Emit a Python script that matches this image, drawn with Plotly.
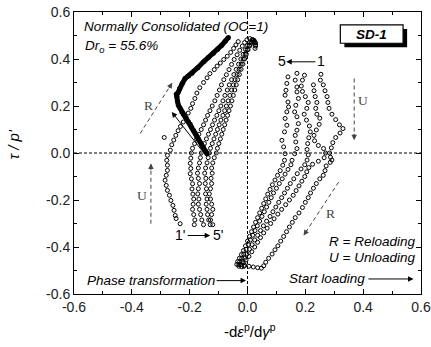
import plotly.graph_objects as go

# ---------------- data ----------------
# cycle 1: right column 1 -> reload band A -> left column 1' -> reload band 1'
c1_x = [0.254, 0.252, 0.262, 0.268, 0.275, 0.278, 0.282, 0.292, 0.305, 0.318, 0.330, 0.320, 0.305, 0.295, 0.290, 0.284, 0.287, 0.292,
        0.286, 0.272, 0.268, 0.262, 0.250, 0.238, 0.228, 0.218, 0.210, 0.200, 0.190, 0.178, 0.165, 0.155, 0.145, 0.135, 0.125, 0.115,
        0.105, 0.095, 0.085, 0.073, 0.063, 0.056, 0.048, 0.035, 0.020,
        -0.233, -0.247, -0.250, -0.254, -0.258, -0.265, -0.270, -0.277, -0.281, -0.285, -0.281, -0.277, -0.277, -0.279, -0.277, -0.267,
        -0.262, -0.255, -0.248, -0.240, -0.232, -0.222, -0.212, -0.205, -0.196, -0.190, -0.182, -0.175, -0.165, -0.152, -0.140, -0.130,
        -0.115, -0.105, -0.094, -0.082, -0.070, -0.058, -0.048, -0.040, -0.032, -0.288]
c1_y = [0.335, 0.310, 0.290, 0.265, 0.240, 0.215, 0.190, 0.165, 0.142, 0.120, 0.104, 0.085, 0.066, 0.044, 0.022, 0.000, -0.018, -0.030,
        -0.040, -0.055, -0.075, -0.095, -0.110, -0.130, -0.150, -0.170, -0.190, -0.210, -0.232, -0.255, -0.275, -0.295, -0.315, -0.335,
        -0.355, -0.375, -0.395, -0.412, -0.430, -0.448, -0.465, -0.480, -0.490, -0.488, -0.485,
        -0.301, -0.279, -0.266, -0.244, -0.223, -0.202, -0.180, -0.159, -0.138, -0.116, -0.095, -0.074, -0.052, -0.031, -0.010, 0.012,
        0.035, 0.055, 0.075, 0.095, 0.113, 0.132, 0.150, 0.170, 0.190, 0.210, 0.232, 0.255, 0.278, 0.300, 0.320, 0.338,
        0.355, 0.370, 0.383, 0.398, 0.412, 0.428, 0.445, 0.460, 0.474, 0.066]

# cycle 2
c2_x = [0.228, 0.230, 0.234, 0.240, 0.236, 0.240, 0.250, 0.248, 0.238, 0.230, 0.232, 0.245, 0.263, 0.270, 0.265, 0.245, 0.225,
        0.212, 0.205, 0.198, 0.188, 0.178, 0.168, 0.158, 0.145, 0.132, 0.118, 0.105, 0.092, 0.080, 0.068, 0.056, 0.045, 0.035, 0.025,
        0.015, 0.005, -0.005, -0.015, -0.010, 0.005,
        -0.184, -0.182, -0.186, -0.190, -0.188, -0.186, -0.189, -0.192, -0.190, -0.194, -0.198, -0.196, -0.198, -0.196, -0.194,
        -0.190, -0.183, -0.176, -0.168, -0.160, -0.152, -0.145, -0.138, -0.130, -0.122, -0.113, -0.105, -0.097, -0.090, -0.082,
        -0.073, -0.064, -0.055, -0.046, -0.036, -0.027, -0.018, -0.010, -0.002, 0.008, 0.018, 0.025, 0.028]
c2_y = [0.290, 0.265, 0.240, 0.215, 0.190, 0.165, 0.148, 0.122, 0.098, 0.075, 0.052, 0.032, 0.019, 0.000, -0.020, -0.035, -0.048,
        -0.062, -0.080, -0.100, -0.120, -0.140, -0.160, -0.180, -0.200, -0.220, -0.240, -0.260, -0.280, -0.300, -0.320, -0.340, -0.360,
        -0.380, -0.400, -0.420, -0.440, -0.455, -0.468, -0.478, -0.482,
        -0.305, -0.285, -0.262, -0.240, -0.218, -0.196, -0.175, -0.153, -0.131, -0.110, -0.088, -0.066, -0.044, -0.022, 0.000,
        0.020, 0.040, 0.060, 0.080, 0.100, 0.120, 0.140, 0.160, 0.180, 0.200, 0.222, 0.245, 0.268, 0.290, 0.312,
        0.333, 0.355, 0.377, 0.398, 0.418, 0.437, 0.455, 0.470, 0.482, 0.487, 0.482, 0.470, 0.455]

# cycle 3
c3_x = [0.197, 0.190, 0.186, 0.190, 0.200, 0.210, 0.205, 0.196, 0.204, 0.214, 0.217, 0.212, 0.208, 0.206, 0.210, 0.206, 0.198,
        0.185, 0.172, 0.160, 0.148, 0.138, 0.128, 0.118, 0.108, 0.098, 0.088, 0.078, 0.066, 0.055, 0.045, 0.035, 0.025, 0.016,
        0.007, -0.002, -0.010, -0.018, -0.022, -0.012,
        -0.152, -0.158, -0.162, -0.166, -0.170, -0.168, -0.172, -0.170, -0.166, -0.170, -0.173, -0.170, -0.166, -0.163, -0.160,
        -0.155, -0.149, -0.142, -0.135, -0.128, -0.121, -0.114, -0.106, -0.099, -0.092, -0.085, -0.078, -0.070, -0.063, -0.055,
        -0.047, -0.039, -0.031, -0.023, -0.015, -0.007, 0.000, 0.008, 0.016, 0.024]
c3_y = [0.331, 0.310, 0.285, 0.262, 0.240, 0.215, 0.190, 0.165, 0.140, 0.115, 0.090, 0.065, 0.040, 0.015, -0.008, -0.030, -0.050,
        -0.068, -0.088, -0.110, -0.130, -0.150, -0.170, -0.190, -0.210, -0.230, -0.250, -0.270, -0.290, -0.310, -0.330, -0.350,
        -0.370, -0.390, -0.410, -0.430, -0.448, -0.462, -0.475, -0.482,
        -0.305, -0.285, -0.262, -0.240, -0.218, -0.196, -0.174, -0.152, -0.130, -0.108, -0.086, -0.064, -0.042, -0.020, 0.000,
        0.020, 0.040, 0.060, 0.080, 0.100, 0.120, 0.140, 0.160, 0.180, 0.200, 0.222, 0.245, 0.268, 0.290, 0.312,
        0.334, 0.356, 0.378, 0.400, 0.420, 0.440, 0.458, 0.472, 0.482, 0.476]

# cycle 4
c4_x = [0.171, 0.165, 0.171, 0.171, 0.176, 0.167, 0.163, 0.171, 0.176, 0.171, 0.165, 0.167, 0.171, 0.163, 0.154, 0.150,
        0.140, 0.130, 0.120, 0.110, 0.100, 0.090, 0.082, 0.074, 0.066, 0.058, 0.050, 0.042, 0.034, 0.026, 0.018, 0.010, 0.003,
        -0.005, -0.013, -0.020, -0.027, -0.030, -0.020,
        -0.129, -0.134, -0.138, -0.140, -0.143, -0.140, -0.145, -0.142, -0.146, -0.144, -0.148, -0.145, -0.140, -0.136, -0.132,
        -0.128, -0.122, -0.116, -0.110, -0.104, -0.098, -0.092, -0.085, -0.079, -0.073, -0.067, -0.061, -0.055, -0.049, -0.043,
        -0.036, -0.029, -0.022, -0.015, -0.008, -0.001, 0.006, 0.014, 0.022, 0.028]
c4_y = [0.339, 0.310, 0.281, 0.260, 0.232, 0.203, 0.175, 0.154, 0.125, 0.097, 0.075, 0.047, 0.019, -0.003, -0.031, -0.050,
        -0.070, -0.090, -0.110, -0.130, -0.150, -0.170, -0.190, -0.210, -0.230, -0.250, -0.270, -0.290, -0.310, -0.330, -0.350,
        -0.370, -0.390, -0.410, -0.430, -0.448, -0.462, -0.475, -0.484,
        -0.305, -0.285, -0.262, -0.240, -0.218, -0.196, -0.174, -0.152, -0.130, -0.108, -0.086, -0.064, -0.042, -0.020, 0.000,
        0.020, 0.040, 0.060, 0.080, 0.100, 0.120, 0.140, 0.160, 0.180, 0.200, 0.222, 0.245, 0.268, 0.290, 0.312,
        0.334, 0.356, 0.378, 0.400, 0.420, 0.440, 0.458, 0.472, 0.480, 0.468]

# cycle 5
c5_x = [0.140, 0.136, 0.133, 0.130, 0.140, 0.142, 0.136, 0.130, 0.136, 0.128, 0.119, 0.125, 0.130, 0.128, 0.122,
        0.113, 0.104, 0.095, 0.086, 0.078, 0.070, 0.063, 0.056, 0.049, 0.042, 0.035, 0.028, 0.021, 0.014, 0.007, 0.000,
        -0.007, -0.014, -0.021, -0.028, -0.034, -0.037, -0.030,
        -0.120, -0.128, -0.124, -0.120, -0.124, -0.128, -0.132, -0.128, -0.124, -0.126, -0.122, -0.124, -0.120, -0.115, -0.108,
        -0.104, -0.099, -0.094, -0.089, -0.084, -0.079, -0.074, -0.069, -0.064, -0.059, -0.054, -0.049, -0.044, -0.039, -0.034,
        -0.028, -0.022, -0.016, -0.010, -0.004, 0.002, 0.008, 0.015, 0.022, 0.028, 0.026]
c5_y = [0.324, 0.296, 0.267, 0.246, 0.217, 0.196, 0.175, 0.147, 0.118, 0.090, 0.054, 0.026, -0.003, -0.031, -0.052,
        -0.075, -0.095, -0.115, -0.135, -0.155, -0.175, -0.195, -0.215, -0.235, -0.255, -0.275, -0.295, -0.315, -0.335, -0.355,
        -0.375, -0.395, -0.415, -0.432, -0.448, -0.462, -0.474, -0.482,
        -0.305, -0.285, -0.262, -0.240, -0.218, -0.196, -0.174, -0.152, -0.130, -0.108, -0.086, -0.064, -0.042, -0.020, 0.000,
        0.020, 0.040, 0.060, 0.080, 0.100, 0.120, 0.140, 0.160, 0.180, 0.200, 0.222, 0.245, 0.268, 0.290, 0.312,
        0.334, 0.356, 0.378, 0.400, 0.420, 0.440, 0.456, 0.468, 0.472, 0.460, 0.445]

# initial (thick) path
thick_x = [-0.140, -0.146, -0.152, -0.158, -0.164, -0.170, -0.176, -0.182, -0.187, -0.193, -0.198, -0.204, -0.210, -0.216,
           -0.222, -0.227, -0.233, -0.239, -0.242, -0.244, -0.246, -0.241, -0.235, -0.226, -0.216, -0.204, -0.192, -0.172,
           -0.152, -0.135, -0.118, -0.103, -0.089, -0.077, -0.066]
thick_y = [-0.003, 0.010, 0.022, 0.033, 0.047, 0.061, 0.075, 0.087, 0.097, 0.110, 0.122, 0.132, 0.143, 0.154,
           0.165, 0.175, 0.190, 0.203, 0.220, 0.239, 0.250, 0.255, 0.275, 0.295, 0.317, 0.328, 0.339, 0.363,
           0.388, 0.406, 0.424, 0.442, 0.459, 0.476, 0.492]

tick_vals = [-0.6, -0.4, -0.2, 0.0, 0.2, 0.4, 0.6]
tick_text = ["-0.6", "-0.4", "-0.2", "0.0", "0.2", "0.4", "0.6"]

# ---------------- figure ----------------
SANS = "Liberation Sans, Arial, sans-serif"
SERIF = "Liberation Serif, Times New Roman, serif"

fig = go.Figure()
open_marker = dict(symbol="circle-open", size=4, color="black", line=dict(width=1, color="black"))
for cx, cy in [(c1_x, c1_y), (c2_x, c2_y), (c3_x, c3_y), (c4_x, c4_y), (c5_x, c5_y)]:
    fig.add_trace(go.Scatter(x=cx, y=cy, mode="markers", marker=open_marker, showlegend=False, hoverinfo="x+y"))
fig.add_trace(go.Scatter(x=thick_x, y=thick_y, mode="lines+markers",
                         line=dict(color="black", width=5),
                         marker=dict(symbol="circle", size=5, color="black"), showlegend=False))

axis_common = dict(range=[-0.6, 0.6], tickvals=tick_vals, ticktext=tick_text, ticks="inside", ticklen=5, tickwidth=1,
                   tickcolor="black", showline=True, linecolor="black", linewidth=1, mirror="allticks",
                   showgrid=False, zeroline=False, automargin=False,
                   tickfont=dict(family=SANS, size=14, color="#222"),
                   minor=dict(ticks="inside", ticklen=3, dtick=0.1, tick0=0, tickcolor="black", showgrid=False))
fig.update_xaxes(**axis_common)
fig.update_yaxes(**axis_common)

shapes = [
    dict(type="line", xref="x", yref="y", x0=-0.6, x1=0.6, y0=0, y1=0, line=dict(color="black", width=1, dash="3px,2px")),
    dict(type="line", xref="x", yref="y", x0=0, x1=0, y0=-0.6, y1=0.6, line=dict(color="black", width=1, dash="3px,2px")),
    # SD-1 box shadow and box
    dict(type="rect", xref="x", yref="y", x0=0.335, x1=0.552, y0=0.450, y1=0.528, fillcolor="black", line=dict(width=0)),
    dict(type="rect", xref="x", yref="y", x0=0.321, x1=0.538, y0=0.467, y1=0.545, fillcolor="white",
         line=dict(color="black", width=1.2)),
    # dashed arrow shafts
    dict(type="line", xref="x", yref="y", x0=-0.371, y0=0.083, x1=-0.262, y1=0.296, line=dict(color="#444", width=1, dash="4px,3px")),
    dict(type="line", xref="x", yref="y", x0=0.369, y0=0.317, x1=0.369, y1=0.058, line=dict(color="#444", width=1, dash="4px,3px")),
    dict(type="line", xref="x", yref="y", x0=-0.334, y0=-0.301, x1=-0.334, y1=-0.048, line=dict(color="#444", width=1, dash="4px,3px")),
    dict(type="line", xref="x", yref="y", x0=0.315, y0=-0.124, x1=0.196, y1=-0.347, line=dict(color="#444", width=1, dash="4px,3px")),
]

def txt(x, y, s, size=13.5, family=SANS, color="black", xanchor="center", **kw):
    return dict(x=x, y=y, xref="x", yref="y", text=s, showarrow=False, xanchor=xanchor, yanchor="middle",
                font=dict(family=family, size=size, color=color), **kw)

def arrow(x, y, ax, ay, color="black", head=2, size=1.1):
    return dict(x=x, y=y, ax=ax, ay=ay, xref="x", yref="y", axref="x", ayref="y", text="", showarrow=True,
                arrowhead=head, arrowsize=size, arrowwidth=1, arrowcolor=color)

def head_only(x, y, dx, dy, color="#444"):
    return dict(x=x, y=y, xref="x", yref="y", ax=dx, ay=dy, axref="pixel", ayref="pixel", text="", showarrow=True,
                arrowhead=2, arrowsize=1.1, arrowwidth=1, arrowcolor=color)

annotations = [
    txt(-0.572, 0.537, "<i>Normally Consolidated (OC=1)</i>", xanchor="left"),
    txt(-0.569, 0.452, "<i>Dr</i><sub><i>o</i></sub><i> = 55.6%</i>", xanchor="left"),
    txt(0.43, 0.506, "<b><i>SD-1</i></b>"),
    txt(0.119, 0.392, "5", size=14),
    txt(0.255, 0.392, "1", size=14),
    arrow(0.134, 0.388, 0.240, 0.388),
    txt(-0.233, -0.351, "1'", size=14),
    txt(-0.103, -0.351, "5'", size=14),
    arrow(-0.129, -0.351, -0.212, -0.351),
    arrow(-0.262, 0.175, -0.158, 0.011),
    txt(-0.343, 0.203, "R", family=SERIF, size=13.5, color="#444"),
    txt(0.376, 0.225, "U", family=SERIF, size=13.5, color="#444", xanchor="left"),
    txt(-0.340, -0.180, "U", family=SERIF, size=13.5, color="#444", xanchor="right"),
    txt(0.286, -0.258, "R", family=SERIF, size=13.5, color="#444"),
    head_only(-0.260, 0.299, -4.3, 6.7),
    head_only(0.369, 0.054, 0, -8),
    head_only(-0.334, -0.045, 0, 8),
    head_only(0.194, -0.351, 4.4, -6.7),
    txt(0.275, -0.375, "<i>R = Reloading</i>", xanchor="left"),
    txt(0.275, -0.446, "<i>U = Unloading</i>", xanchor="left"),
    txt(0.136, -0.536, "<i>Start loading</i>", xanchor="left"),
    arrow(0.574, -0.536, 0.413, -0.536),
    txt(-0.561, -0.543, "<i>Phase transformation</i>", xanchor="left"),
    arrow(-0.005, -0.543, -0.112, -0.543),
    dict(x=0.507, y=-0.128, xref="paper", yref="paper", showarrow=False, xanchor="center", yanchor="middle",
         text="-d<i>ε</i><sup>p</sup>/d<i>γ</i><sup>p</sup>", font=dict(family=SANS, size=15, color="black")),
    dict(x=-0.173, y=0.53, xref="paper", yref="paper", showarrow=False, xanchor="center", yanchor="middle",
         textangle=-90, text="<i>τ / p'</i>", font=dict(family=SANS, size=15, color="black")),
]

fig.update_layout(width=431, height=347, autosize=False, margin=dict(l=74, r=10, t=12, b=53),
                  paper_bgcolor="white", plot_bgcolor="white", shapes=shapes, annotations=annotations,
                  showlegend=False)

fig.write_html("out.html")
